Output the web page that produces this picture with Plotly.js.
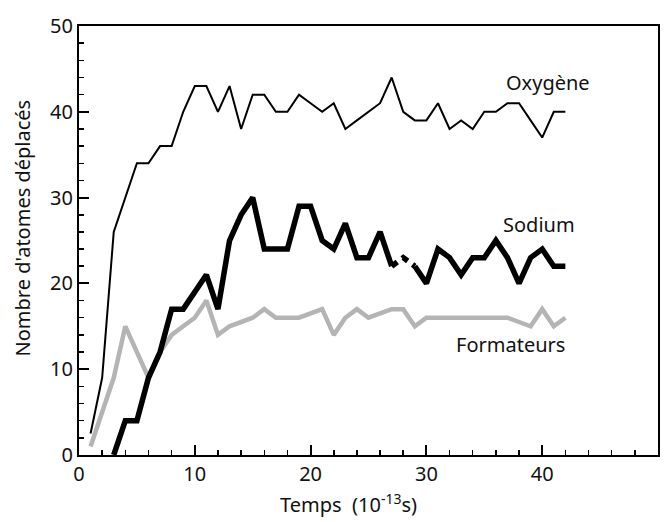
<!DOCTYPE html>
<html>
<head>
<meta charset="utf-8">
<script src="https://cdn.plot.ly/plotly-3.0.1.min.js"></script>
<style>
  html, body { margin: 0; padding: 0; background: #fff; }
  #chart { width: 668px; height: 522px; }
</style>
</head>
<body>
<div id="chart"></div>
<script>
// Time steps (10^-13 s)
const tOxygene = [1,2,3,4,5,6,7,8,9,10,11,12,13,14,15,16,17,18,19,20,21,22,23,24,25,26,27,28,29,30,31,32,33,34,35,36,37,38,39,40,41,42];
const oxygene  = [2.5,9,26,30,34,34,36,36,40,43,43,40,43,38,42,42,40,40,42,41,40,41,38,39,40,41,44,40,39,39,41,38,39,38,40,40,41,41,39,37,40,40];

const tSodium = [3,4,5,6,7,8,9,10,11,12,13,14,15,16,17,18,19,20,21,22,23,24,25,26,27,28,29,30,31,32,33,34,35,36,37,38,39,40,41,42];
const sodium  = [0,4,4,9,12,17,17,19,21,17,25,28,30,24,24,24,29,29,25,24,27,23,23,26,22,23,22,20,24,23,21,23,23,25,23,20,23,24,22,22];
// Sodium stretch drawn broken (between these times)
const sodiumGap = [27, 29];

const tFormateurs = [1,2,3,4,5,6,7,8,9,10,11,12,13,14,15,16,17,18,19,20,21,22,23,24,25,26,27,28,29,30,31,32,33,34,35,36,37,38,39,40,41,42];
const formateurs  = [1,5,9,15,12,9,12,14,15,16,18,14,15,15.5,16,17,16,16,16,16.5,17,14,16,17,16,16.5,17,17,15,16,16,16,16,16,16,16,16,15.5,15,17,15,16];

// Series labels placed next to their curves
const seriesLabels = ['Oxygène', 'Sodium', 'Formateurs'];
const labelX = [40.5, 39.7, 37.3];
const labelY = [43.4, 26.9, 12.9];

const xTicks = [0, 10, 20, 30, 40, 50];
const yTicks = [0, 10, 20, 30, 40, 50];

const FONT = 'Noto Sans, Lato, sans-serif';

// split sodium into solid / broken / solid pieces
function slice(t, v, lo, hi) {
  const xs = [], ys = [];
  t.forEach((x, i) => { if (x >= lo && x <= hi) { xs.push(x); ys.push(v[i]); } });
  return {x: xs, y: ys};
}
const naA = slice(tSodium, sodium, -Infinity, sodiumGap[0]);
const naB = slice(tSodium, sodium, sodiumGap[0], sodiumGap[1]);
const naC = slice(tSodium, sodium, sodiumGap[1], Infinity);

const traces = [
  {x: tFormateurs, y: formateurs, mode: 'lines', line: {color: '#b4b4b4', width: 4.5}, hoverinfo: 'skip'},
  {x: tOxygene, y: oxygene, mode: 'lines', line: {color: '#000', width: 2}, hoverinfo: 'skip'},
  {x: naA.x, y: naA.y, mode: 'lines', line: {color: '#000', width: 5.5}, hoverinfo: 'skip'},
  {x: naB.x, y: naB.y, mode: 'lines', line: {color: '#000', width: 5.5, dash: '7px,6px'}, hoverinfo: 'skip'},
  {x: naC.x, y: naC.y, mode: 'lines', line: {color: '#000', width: 5.5}, hoverinfo: 'skip'}
];

const annotations = seriesLabels.map((s, i) => ({
  x: labelX[i], y: labelY[i], xref: 'x', yref: 'y', text: s, showarrow: false,
  font: {family: FONT, size: 20, color: '#111'}, xanchor: 'center', yanchor: 'middle'
}));
annotations.push({
  xref: 'paper', yref: 'paper', x: 0.465, y: -0.113, yanchor: 'middle', xanchor: 'center',
  text: 'Temps  (10<sup>-13</sup>s)', showarrow: false,
  font: {family: FONT, size: 20, color: '#111'}
});
annotations.push({
  xref: 'paper', yref: 'paper', x: -0.097, y: 0.53, xanchor: 'center', yanchor: 'middle',
  text: "Nombre d'atomes déplacés", textangle: -90, showarrow: false,
  font: {family: FONT, size: 20, color: '#111'}
});

const axisCommon = {
  range: [0, 50], showgrid: false, zeroline: false,
  showline: true, linecolor: '#000', linewidth: 2, mirror: true,
  ticks: 'inside', ticklen: 10, tickwidth: 2, tickcolor: '#000',
  minor: {ticks: 'inside', ticklen: 5, tickwidth: 1.5, tickcolor: '#000', dtick: 2},
  tickfont: {family: FONT, size: 20, color: '#111'},
  fixedrange: true
};

const layout = {
  width: 668, height: 522,
  margin: {l: 79, r: 10, t: 26, b: 67},
  paper_bgcolor: '#fff', plot_bgcolor: '#fff',
  showlegend: false,
  xaxis: Object.assign({}, axisCommon, {tickvals: xTicks, ticktext: xTicks.map(String)}),
  yaxis: Object.assign({}, axisCommon, {tickvals: yTicks, ticktext: yTicks.map(String)}),
  annotations: annotations
};

Plotly.newPlot('chart', traces, layout, {staticPlot: true, displayModeBar: false});
</script>
</body>
</html>
